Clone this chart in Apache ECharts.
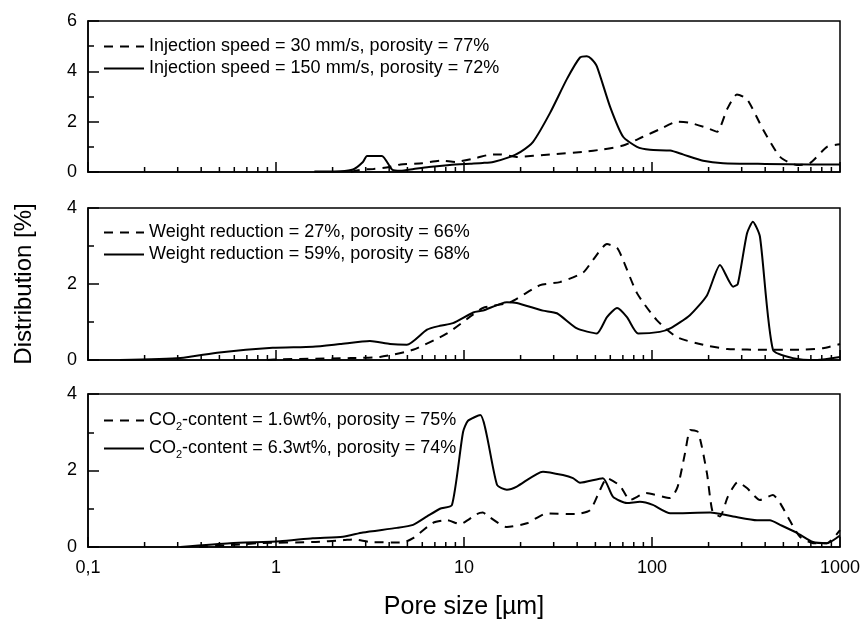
<!DOCTYPE html>
<html>
<head>
<meta charset="utf-8">
<script src="https://cdn.jsdelivr.net/npm/echarts@6/dist/echarts.min.js"></script>
<style>
  html, body { margin: 0; padding: 0; background: #fff; }
  #chart { width: 863px; height: 622px; }
</style>
</head>
<body>
<div id="chart"></div>
<script>
// pore size in µm, distribution in %
const speed30 = [[2.5, 0], [2.9, 0.1], [3.3, 0.12], [4.0, 0.2], [4.6, 0.3], [6.0, 0.35], [7.6, 0.45], [9.0, 0.4],
  [11.5, 0.55], [13.5, 0.68], [15.5, 0.7], [19, 0.6], [28.7, 0.7], [43, 0.8], [55, 0.9], [70.2, 1.05], [89.6, 1.4],
  [110, 1.7], [136, 2.0], [160, 1.95], [196, 1.75], [222, 1.6], [251, 2.5], [283, 3.08], [320, 2.9], [389, 1.7],
  [480, 0.6], [590, 0.28], [692, 0.35], [853, 1.0], [1000, 1.1]]
const speed150 = [[1.6, 0.02], [2.2, 0.03], [2.57, 0.1], [2.9, 0.4], [3.05, 0.64], [3.66, 0.64], [4.14, 0.1],
  [4.6, 0.05], [5.4, 0.12], [6.5, 0.2], [8.4, 0.28], [10.8, 0.33], [12.6, 0.36], [14.3, 0.4], [17.6, 0.6],
  [20, 0.8], [23.3, 1.2], [28.7, 2.35], [35.3, 3.7], [41.4, 4.55], [45, 4.6], [47.5, 4.5], [50.9, 4.2],
  [59.8, 2.6], [70.2, 1.4], [83.2, 1.0], [97.6, 0.88], [125, 0.85], [146, 0.7], [187, 0.45], [239, 0.35],
  [400, 0.32], [700, 0.3], [1000, 0.3]]
const weight27 = [[0.9, 0], [1.05, 0.02], [2.5, 0.05], [3.57, 0.08], [5.36, 0.27], [8.12, 0.7], [11.2, 1.2],
  [12.6, 1.37], [17.6, 1.52], [25.4, 1.97], [32.4, 2.05], [43.0, 2.3], [48.5, 2.63], [57.6, 3.05], [65.2, 2.95],
  [70.2, 2.63], [83.2, 1.76], [106, 1.05], [136, 0.6], [187, 0.4], [251, 0.29], [409, 0.27], [612, 0.27],
  [812, 0.31], [1000, 0.42]]
const weight59 = [[0.148, 0], [0.31, 0.05], [0.5, 0.2], [0.96, 0.32], [1.57, 0.35], [2.19, 0.42], [3.16, 0.5],
  [4.04, 0.42], [4.97, 0.4], [6.36, 0.8], [7.45, 0.9], [8.74, 0.97], [11.2, 1.25], [12.6, 1.3], [16.9, 1.52],
  [19.1, 1.5], [26.3, 1.3], [31.2, 1.23], [39.9, 0.83], [50.9, 0.7], [57.6, 1.13], [65.2, 1.37], [73.6, 1.13],
  [84.3, 0.7], [110, 0.74], [125, 0.83], [159, 1.18], [196, 1.7], [230, 2.5], [270, 1.93], [286, 2.0],
  [320, 3.33], [344, 3.64], [375, 3.25], [440, 0.27], [562, 0.05], [755, 0], [1000, 0.08]]
const co2low = [[0.39, 0], [0.57, 0.05], [0.82, 0.1], [1.57, 0.13], [2.3, 0.18], [2.6, 0.2], [3.16, 0.13],
  [4.74, 0.12], [5.36, 0.23], [6.84, 0.63], [8.12, 0.7], [9.52, 0.6], [11.7, 0.86], [12.6, 0.9], [13.5, 0.8],
  [16.9, 0.52], [21.6, 0.62], [27.6, 0.88], [39, 0.86], [46.8, 0.96], [52.8, 1.48], [57.6, 1.8], [67.6, 1.6],
  [76.4, 1.23], [93, 1.41], [125, 1.28], [137, 1.58], [150, 2.46], [160, 3.06], [176, 3.0], [196, 1.93],
  [210, 0.92], [230, 0.8], [253, 1.31], [286, 1.7], [320, 1.54], [375, 1.23], [440, 1.36], [480, 1.15],
  [540, 0.7], [612, 0.27], [718, 0.1], [853, 0.1], [1000, 0.44]]
const co2high = [[0.31, 0], [0.57, 0.1], [1.05, 0.15], [1.57, 0.23], [2.27, 0.27], [2.9, 0.38], [4.4, 0.5],
  [5.36, 0.58], [6.36, 0.8], [7.45, 1.0], [8.63, 1.1], [9.88, 3.0], [10.5, 3.3], [12.2, 3.45], [15.0, 1.62],
  [16.9, 1.5], [19.1, 1.58], [26.3, 1.97], [33.6, 1.88], [38.0, 1.8], [41.4, 1.68], [54.8, 1.8], [62.1, 1.31],
  [73.6, 1.15], [86.3, 1.18], [101, 1.1], [125, 0.88], [204, 0.9], [270, 0.8], [362, 0.7], [424, 0.7],
  [480, 0.58], [590, 0.37], [718, 0.13], [853, 0.1], [1000, 0.3]]

const names = [
  ['Injection speed = 30 mm/s, porosity = 77%', 'Injection speed = 150 mm/s, porosity = 72%'],
  ['Weight reduction = 27%, porosity = 66%', 'Weight reduction = 59%, porosity = 68%'],
  ['CO2-content = 1.6wt%, porosity = 75%', 'CO2-content = 6.3wt%, porosity = 74%']
]
const panelData = [[speed30, speed150], [weight27, weight59], [co2low, co2high]]
const yMax = [6, 4, 4]
const xTickLabels = ['0,1', '1', '10', '100', '1000']
const decades = [0.1, 1, 10, 100]

const FONT = 'Liberation Sans, Arial, sans-serif'
const gridTops = [21, 208, 394]
const gridHeights = [151, 152, 153]
const legendTops = [32, 218, 406]

// minor ticks 2..9 per decade on the log axis
const minorTicks = []
decades.forEach((d) => {
  for (let k = 2; k <= 9; k++) minorTicks.push([d * k, 0])
})

const chart = echarts.init(document.getElementById('chart'))

const grid = gridTops.map((top, i) => ({
  left: 88, right: 23, top, height: gridHeights[i],
  show: true, borderColor: '#000', borderWidth: 1.5, backgroundColor: 'transparent'
}))

const xAxis = gridTops.map((_, i) => ({
  type: 'log', logBase: 10, min: 0.1, max: 1000, gridIndex: i,
  axisLine: { show: true, lineStyle: { color: '#000', width: 1.5 } },
  axisTick: { show: true, inside: true, length: 10, lineStyle: { color: '#000', width: 1.5 } },
  splitLine: { show: false },
  axisLabel: {
    show: i === 2, color: '#000', fontSize: 18, fontFamily: FONT, margin: 12,
    formatter: (v) => xTickLabels[Math.round(Math.log10(v)) + 1]
  },
  name: i === 2 ? 'Pore size [µm]' : '',
  nameLocation: 'middle', nameGap: 48,
  nameTextStyle: { color: '#000', fontSize: 25, fontFamily: FONT }
}))

const yAxis = gridTops.map((_, i) => ({
  type: 'value', min: 0, max: yMax[i], interval: 2, gridIndex: i,
  axisLine: { show: true, lineStyle: { color: '#000', width: 1.5 } },
  axisTick: { show: true, inside: true, length: 11, lineStyle: { color: '#000', width: 1.5 } },
  minorTick: { show: true, splitNumber: 2, length: 6, lineStyle: { color: '#000', width: 1.5 } },
  splitLine: { show: false },
  axisLabel: { color: '#000', fontSize: 18, fontFamily: FONT, margin: 11 },
  name: i === 1 ? 'Distribution [%]' : '',
  nameLocation: 'middle', nameGap: 52,
  nameTextStyle: { color: '#000', fontSize: 24, fontFamily: FONT }
}))

const series = []
panelData.forEach((pair, i) => {
  pair.forEach((data, j) => {
    series.push({
      name: names[i][j], type: 'line', xAxisIndex: i, yAxisIndex: i,
      data, symbol: 'none', smooth: 0.2, animation: false, color: '#000',
      lineStyle: { color: '#000', width: 2, type: j === 0 ? [9, 7] : 'solid' }
    })
  })
  series.push({
    type: 'custom', xAxisIndex: i, yAxisIndex: i, data: minorTicks, silent: true, clip: false, z: 5,
    renderItem: (params, api) => {
      const p = api.coord([api.value(0), 0])
      return {
        type: 'line',
        shape: { x1: p[0], y1: p[1], x2: p[0], y2: p[1] - 5 },
        style: { stroke: '#000', lineWidth: 1.5 }
      }
    }
  })
})

const legend = names.map((pair, i) => ({
  data: pair, orient: 'vertical', left: 98, top: legendTops[i],
  itemWidth: 40, itemHeight: 14, itemGap: i === 2 ? 7 : 3,
  selectedMode: false,
  itemStyle: { opacity: 0 },
  textStyle: {
    color: '#000', fontSize: 18, fontFamily: FONT, lineHeight: 19,
    rich: { sub: { fontSize: 11, fontFamily: FONT, color: '#000', padding: [12, 0, 0, 0] } }
  },
  formatter: (name) => name.replace('CO2', 'CO{sub|2}')
}))

chart.setOption({ animation: false, grid, xAxis, yAxis, legend, series })
</script>
</body>
</html>
